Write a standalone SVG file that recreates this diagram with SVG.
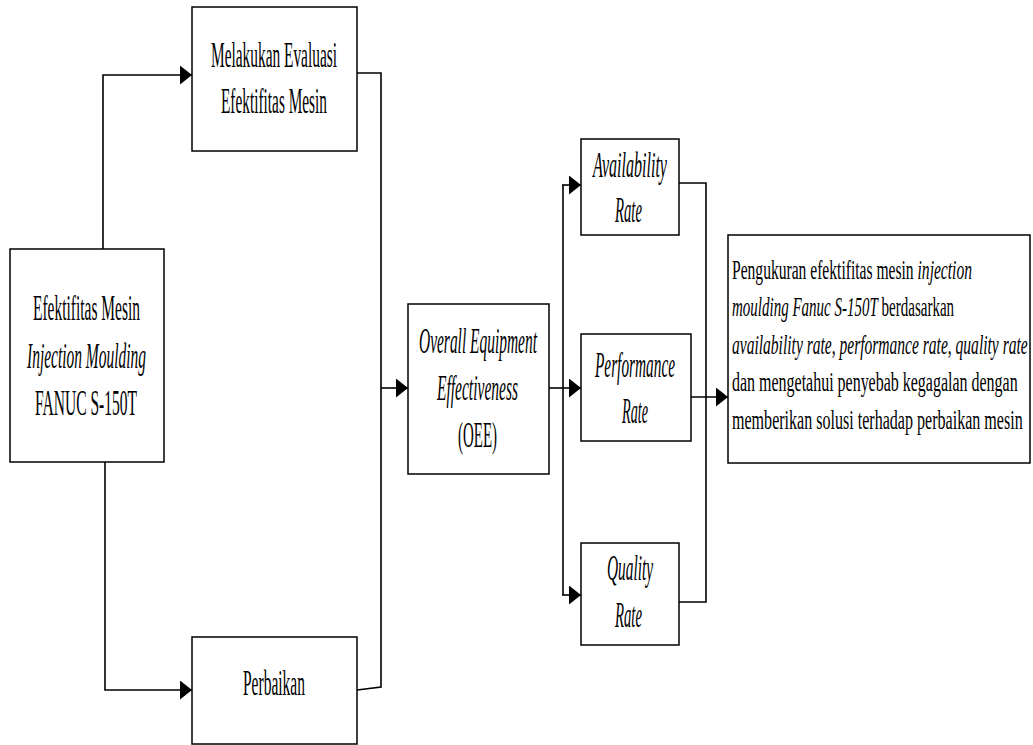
<svg xmlns="http://www.w3.org/2000/svg" width="1033" height="745" viewBox="0 0 1033 745">
<style>
.box{fill:#fff;stroke:#000;stroke-width:1.5}
.t{font-family:"Liberation Serif","Times New Roman",serif;font-size:35px;fill:#000}
.r{font-family:"Liberation Serif","Times New Roman",serif;font-size:27px;fill:#000}
.i{font-style:italic}
.c{fill:none;stroke:#000;stroke-width:1.6}
</style>
<defs>
<marker id="ah" markerUnits="userSpaceOnUse" markerWidth="12" markerHeight="19" refX="12" refY="9.5" orient="auto">
<path d="M0,0 L12,9.5 L0,19 Z" fill="#000"/>
</marker>
</defs>
<rect width="1033" height="745" fill="#fff"/>
<g id="connectors">
<polyline class="c" points="103,249 103,75 192,75" marker-end="url(#ah)"/>
<polyline class="c" points="105,462 105,690 192,690" marker-end="url(#ah)"/>
<polyline class="c" points="357,73 381,73 381,687 357,690"/>
<line class="c" x1="381" y1="388" x2="408" y2="388" marker-end="url(#ah)"/>
<line class="c" x1="549" y1="388" x2="581" y2="388" marker-end="url(#ah)"/>
<polyline class="c" points="563,185 563,595"/>
<line class="c" x1="562" y1="185" x2="581" y2="185" marker-end="url(#ah)"/>
<line class="c" x1="562" y1="595" x2="581" y2="595" marker-end="url(#ah)"/>
<polyline class="c" points="679,183 706,183 706,602 679,602"/>
<line class="c" x1="691" y1="397" x2="728" y2="397" marker-end="url(#ah)"/>
</g>
<g id="n-mesin">
<rect class="box" x="10" y="249" width="154" height="213"/>
<text class="t" x="33" y="320" textLength="107" lengthAdjust="spacingAndGlyphs">Efektifitas Mesin</text>
<text class="t i" x="27" y="368" textLength="119" lengthAdjust="spacingAndGlyphs">Injection Moulding</text>
<text class="t" x="35" y="415" textLength="102" lengthAdjust="spacingAndGlyphs">FANUC S-150T</text>
</g>
<g id="n-evaluasi">
<rect class="box" x="192" y="7" width="165" height="144"/>
<text class="t" x="211" y="67" textLength="126" lengthAdjust="spacingAndGlyphs">Melakukan Evaluasi</text>
<text class="t" x="221" y="113" textLength="106" lengthAdjust="spacingAndGlyphs">Efektifitas Mesin</text>
</g>
<g id="n-perbaikan">
<rect class="box" x="192" y="637" width="165" height="107"/>
<text class="t" x="243" y="695" textLength="62" lengthAdjust="spacingAndGlyphs">Perbaikan</text>
</g>
<g id="n-oee">
<rect class="box" x="408" y="304" width="141" height="170"/>
<text class="t i" x="419" y="353" textLength="118" lengthAdjust="spacingAndGlyphs">Overall Equipment</text>
<text class="t i" x="437" y="400" textLength="81" lengthAdjust="spacingAndGlyphs">Effectiveness</text>
<text class="t" x="458" y="447" textLength="39" lengthAdjust="spacingAndGlyphs">(OEE)</text>
</g>
<g id="n-availability">
<rect class="box" x="581" y="139" width="98" height="96"/>
<text class="t i" x="593" y="177" textLength="74" lengthAdjust="spacingAndGlyphs">Availability</text>
<text class="t i" x="615" y="222" textLength="27" lengthAdjust="spacingAndGlyphs">Rate</text>
</g>
<g id="n-performance">
<rect class="box" x="581" y="334" width="110" height="107"/>
<text class="t i" x="595" y="377" textLength="80" lengthAdjust="spacingAndGlyphs">Performance</text>
<text class="t i" x="622" y="423" textLength="26" lengthAdjust="spacingAndGlyphs">Rate</text>
</g>
<g id="n-quality">
<rect class="box" x="581" y="543" width="98" height="102"/>
<text class="t i" x="607" y="580" textLength="46" lengthAdjust="spacingAndGlyphs">Quality</text>
<text class="t i" x="615" y="627" textLength="27" lengthAdjust="spacingAndGlyphs">Rate</text>
</g>
<g id="n-hasil">
<rect class="box" x="728" y="235" width="302" height="228"/>
<text class="r" transform="translate(732,279) scale(0.577,1)">Pengukuran efektifitas mesin <tspan class="i">injection</tspan></text>
<text class="r" transform="translate(732,316) scale(0.556,1)"><tspan class="i">moulding Fanuc S-150T</tspan> berdasarkan</text>
<text class="r" transform="translate(732,354) scale(0.576,1)"><tspan class="i">availability rate</tspan>, <tspan class="i">performance rate</tspan>, <tspan class="i">quality rate</tspan></text>
<text class="r" transform="translate(732,391) scale(0.592,1)">dan mengetahui penyebab kegagalan dengan</text>
<text class="r" transform="translate(732,429) scale(0.595,1)">memberikan solusi terhadap perbaikan mesin</text>
</g>
</svg>
